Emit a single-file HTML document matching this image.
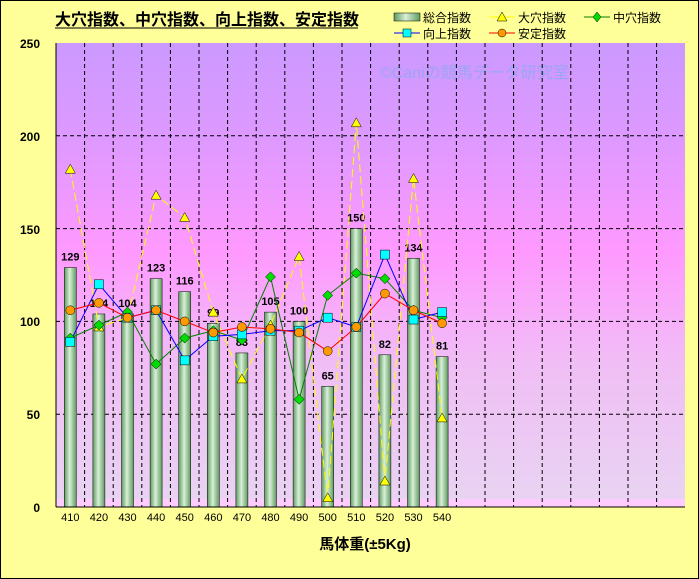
<!DOCTYPE html>
<html><head><meta charset="utf-8"><style>
body{margin:0;background:#ffff99}
svg{display:block;font-family:"Liberation Sans","Noto Sans CJK JP",sans-serif}
</style></head><body>
<svg width="699" height="579" viewBox="0 0 699 579" xmlns="http://www.w3.org/2000/svg">
<defs>
<linearGradient id="bg" x1="0" y1="0" x2="0" y2="1">
<stop offset="0" stop-color="#cc99ff"/>
<stop offset="0.2" stop-color="#dd99ff"/>
<stop offset="0.45" stop-color="#ff99ff"/>
<stop offset="0.7" stop-color="#f0bff5"/>
<stop offset="1" stop-color="#e8d4f2"/>
</linearGradient>
<linearGradient id="bar" x1="0" y1="0" x2="1" y2="0">
<stop offset="0" stop-color="#5f9a5f"/>
<stop offset="0.45" stop-color="#d8f0d8"/>
<stop offset="1" stop-color="#5f9a5f"/>
</linearGradient>
</defs>
<rect x="0.5" y="0.5" width="698" height="578" fill="#ffff99" stroke="#000"/>
<rect x="56" y="43" width="629" height="464" fill="url(#bg)"/>
<rect x="56" y="499" width="629" height="8" fill="#ffccff"/>
<text x="380" y="78" font-size="16" fill="#8fa8f0" opacity="0.8">©Caniの競馬データ研究室</text>
<g stroke="#000" stroke-dasharray="4,3" stroke-width="1" id="grid"></g>
<g id="bars"></g>
<g id="lines"></g>
<line x1="56" y1="43" x2="56" y2="507" stroke="#000"/>
<line x1="56" y1="507" x2="685" y2="507" stroke="#000"/>
<g font-size="12" font-weight="bold" text-anchor="end">
<text x="40" y="48">250</text><text x="40" y="141">200</text><text x="40" y="234">150</text>
<text x="40" y="326">100</text><text x="40" y="419">50</text><text x="40" y="512">0</text>
</g>
<g id="xl" font-size="11" text-anchor="middle"></g>
<text x="365" y="549" font-size="15" font-weight="bold" text-anchor="middle">馬体重(±5Kg)</text>
<text x="55" y="25" font-size="16" font-weight="bold">大穴指数、中穴指数、向上指数、安定指数</text>
<line x1="55" y1="28" x2="358" y2="28" stroke="#000"/>
<g font-size="12">
<rect x="394" y="13" width="26" height="8" fill="url(#bar)" stroke="#000" stroke-width="0.5"/>
<text x="423" y="22">総合指数</text>
<line x1="489" y1="17" x2="515" y2="17" stroke="#ffff00"/><path d="M502,12 L507,21 L497,21Z" fill="#ffff00" stroke="#000" stroke-width="0.5"/>
<text x="518" y="22">大穴指数</text>
<line x1="584" y1="17" x2="610" y2="17" stroke="#008000"/><path d="M597,12 L601,17 L597,22 L593,17Z" fill="#00dd00" stroke="#000" stroke-width="0.5"/>
<text x="613" y="22">中穴指数</text>
<line x1="394" y1="33" x2="420" y2="33" stroke="#0000ff"/><rect x="403" y="29" width="8" height="8" fill="#00ffff" stroke="#000" stroke-width="0.5"/>
<text x="423" y="38">向上指数</text>
<line x1="489" y1="33" x2="515" y2="33" stroke="#ff0000"/><circle cx="502" cy="33" r="4" fill="#ff9900" stroke="#000" stroke-width="0.5"/>
<text x="518" y="38">安定指数</text>
</g>
</svg>
<script>
const NS="http://www.w3.org/2000/svg";
const X=i=>56+28.6*(i+0.5), Y=v=>507-v*1.856;
function el(t,a,p){const e=document.createElementNS(NS,t);for(const k in a)e.setAttribute(k,a[k]);document.getElementById(p).appendChild(e);return e;}
for(let k=1;k<22;k++){const x=56+28.6*k;el('line',{x1:x,y1:43,x2:x,y2:507},'grid');}
[50,100,150,200].forEach(v=>el('line',{x1:56,y1:Y(v),x2:685,y2:Y(v)},'grid'));
const tot=[129,104,104,123,116,99,83,105,100,65,150,82,134,81];
const oa=[182,97,102,168,156,105,69,98,135,5,207,14,177,48];
const ch=[91,98,105,77,91,95,90,124,58,114,126,123,106,102];
const ko=[89,120,102,106,79,92,93,95,95,102,97,136,101,105];
const an=[106,110,102,106,100,94,97,96,94,84,97,115,106,99];
tot.forEach((v,i)=>{el('rect',{x:X(i)-6,y:Y(v),width:12,height:v*1.856,fill:'url(#bar)',stroke:'#000','stroke-width':0.5},'bars');
const t=el('text',{x:X(i),y:Y(v)-7,'font-size':11,'font-weight':'bold','text-anchor':'middle'},'bars');t.textContent=v;
const l=el('text',{x:X(i),y:521},'xl');l.textContent=410+10*i;});
function line(d,c){el('polyline',{points:d.map((v,i)=>X(i)+','+Y(v)).join(' '),fill:'none',stroke:c,'stroke-width':1,...(c=='#ffff00'?{'stroke-dasharray':'8,4'}:{})},'lines');}
line(oa,'#ffff00');line(ch,'#008000');line(ko,'#0000ff');line(an,'#ff0000');
oa.forEach((v,i)=>{const x=X(i),y=Y(v);el('path',{d:`M${x},${y-5}L${x+5},${y+4}L${x-5},${y+4}Z`,fill:'#ffff00',stroke:'#000','stroke-width':0.5},'lines');});
ch.forEach((v,i)=>{const x=X(i),y=Y(v);el('path',{d:`M${x},${y-5}L${x+5},${y}L${x},${y+5}L${x-5},${y}Z`,fill:'#00dd00',stroke:'#000','stroke-width':0.5},'lines');});
ko.forEach((v,i)=>{el('rect',{x:X(i)-4.5,y:Y(v)-4.5,width:9,height:9,fill:'#00ffff',stroke:'#000','stroke-width':0.5},'lines');});
an.forEach((v,i)=>{el('circle',{cx:X(i),cy:Y(v),r:4.5,fill:'#ff9900',stroke:'#000','stroke-width':0.5},'lines');});
</script>
</body></html>
